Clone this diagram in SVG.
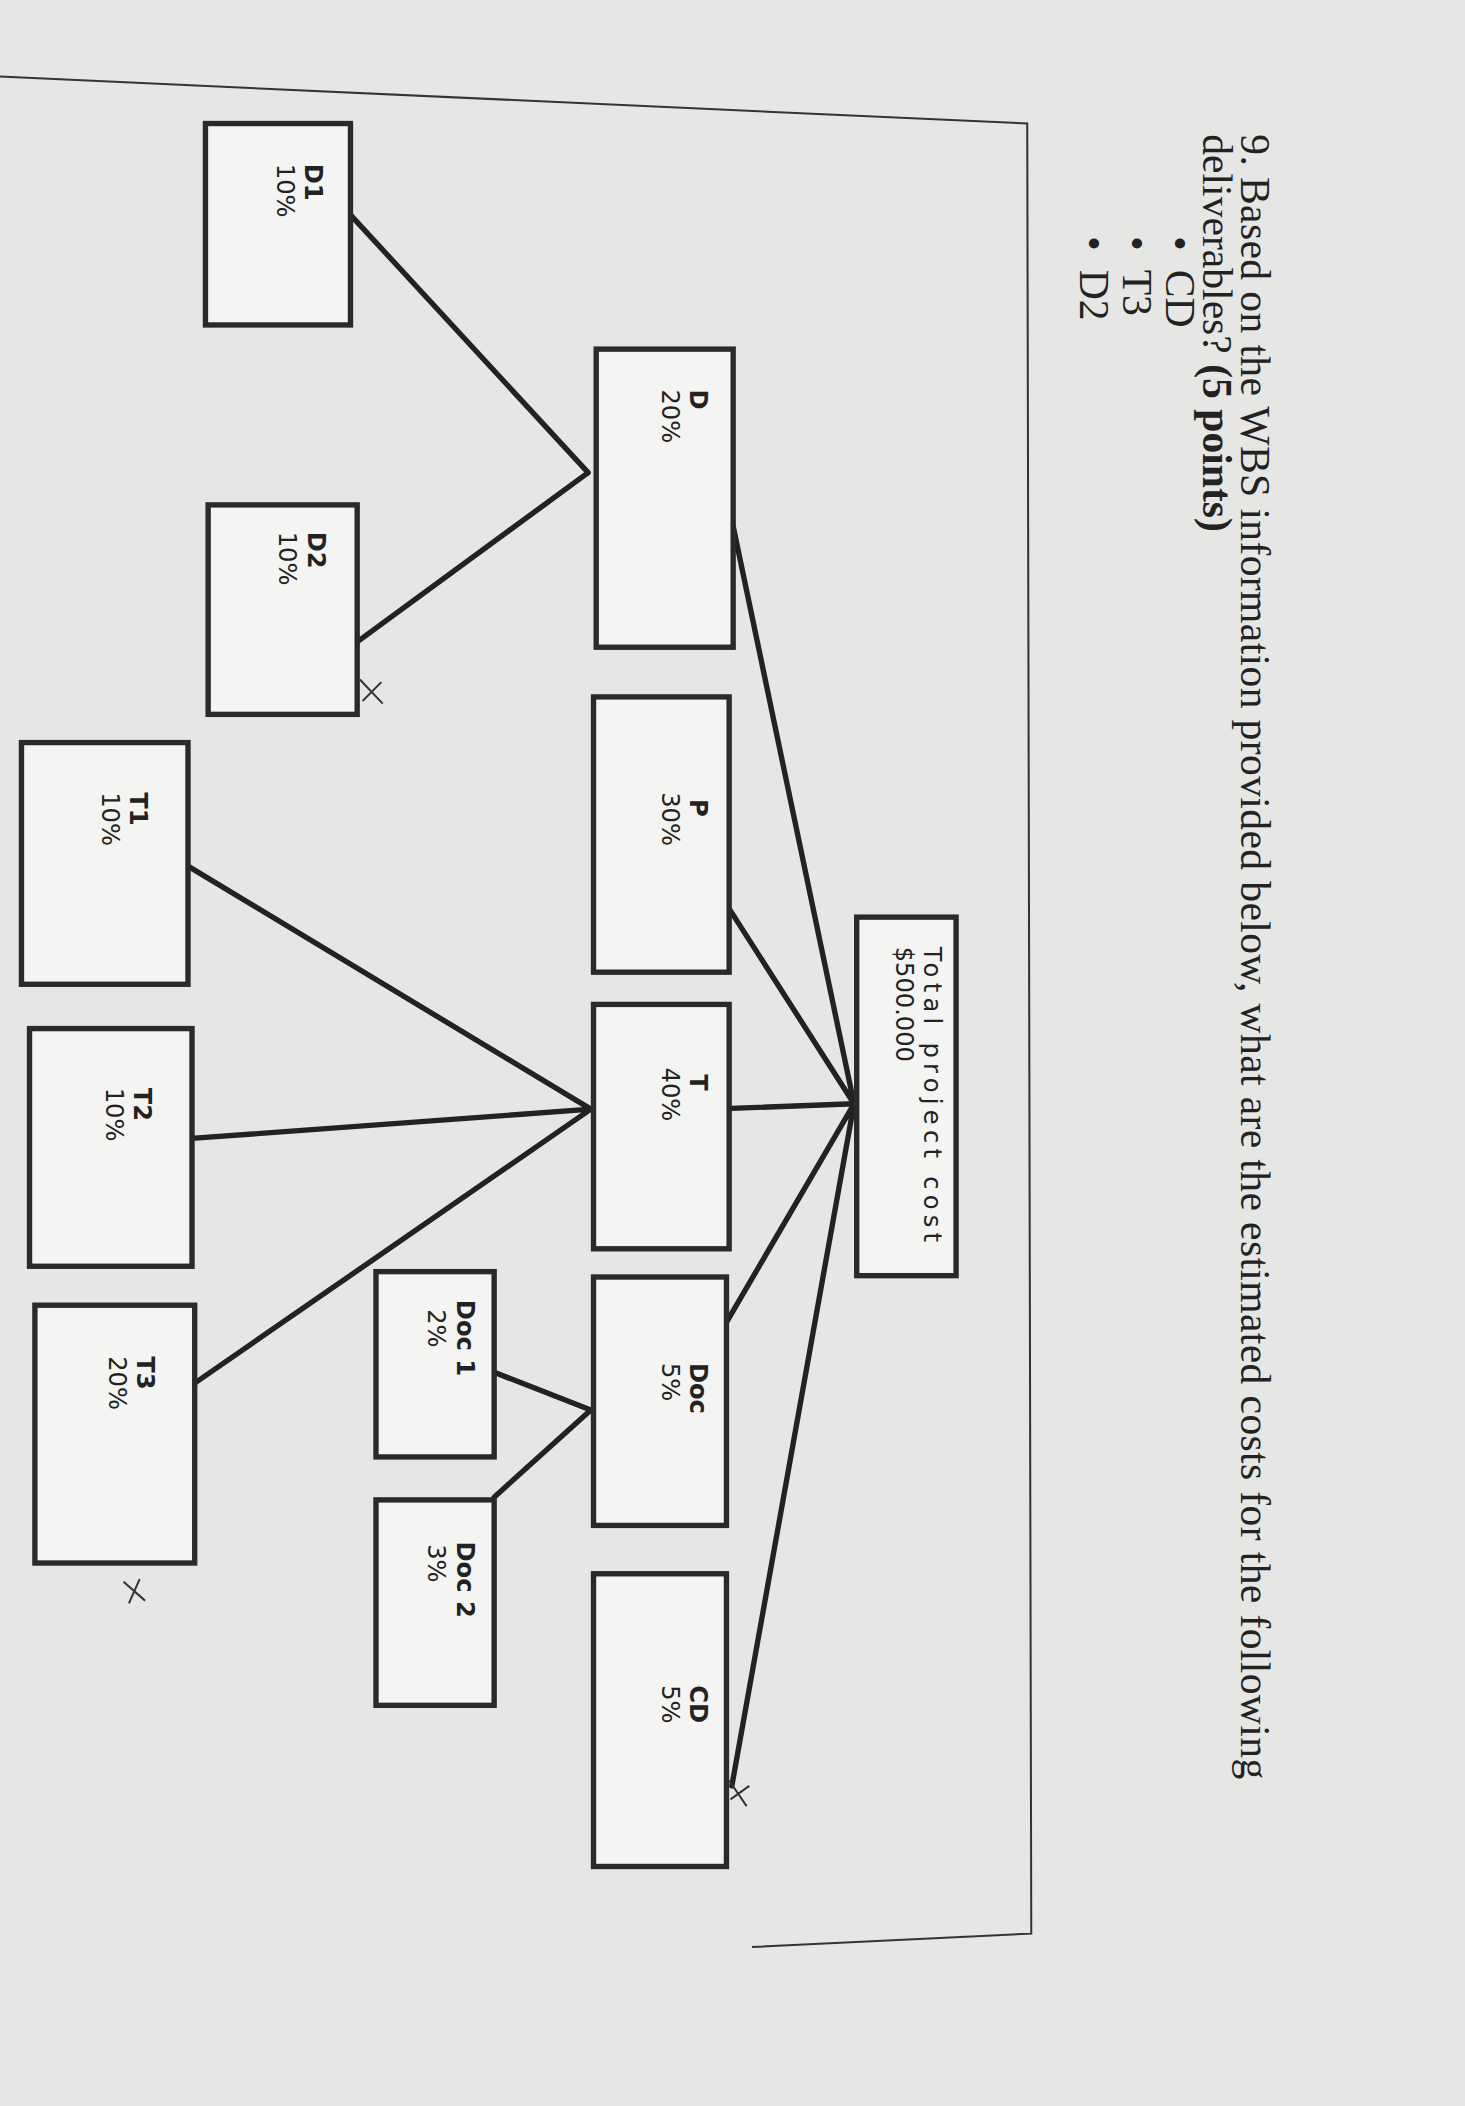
<svg xmlns="http://www.w3.org/2000/svg" width="1465" height="2106" viewBox="0 0 1465 2106">
<style>
.b{fill:#f4f4f2;stroke:#2a2a2a;stroke-width:4}
.c{stroke:#222;stroke-width:4;fill:none;stroke-linecap:round}
.t{font-family:"DejaVu Sans",sans-serif;font-size:18px;fill:#222}
.q{font-family:"Liberation Serif",serif;font-size:31px;fill:#222}
.f{stroke:#333;stroke-width:1.5;fill:none}
</style>
<rect width="1465" height="2106" fill="#e6e6e4"/>
<g transform="scale(1.3428)">
<path class="f" d="M0,57 L765,92 L768,1440 L560,1450"/>
<g id="question">
<text class="q" transform="translate(924,100) rotate(90)" textLength="1225">9. Based on the WBS information provided below, what are the estimated costs for the following</text>
<text class="q" transform="translate(896,100) rotate(90)">deliverables? <tspan font-weight="bold">(5 points)</tspan></text>
<text class="q" transform="translate(868,176) rotate(90)">•<tspan dx="14">CD</tspan></text>
<text class="q" transform="translate(836,176) rotate(90)">•<tspan dx="14">T3</tspan></text>
<text class="q" transform="translate(804,176) rotate(90)">•<tspan dx="14">D2</tspan></text>
</g>
<g id="connectors">
<path class="c" d="M636,822 L546,392 M636,822 L540,672 M636,822 L530,826 M636,822 L535,995 M636,822 L545,1330"/>
<path class="c" d="M438,352 L261,160 M438,352 L266,478"/>
<path class="c" d="M440,826 L140,645 M440,826 L140,848 M440,826 L145,1030"/>
<path class="c" d="M440,1050 L368,1022 M440,1050 L368,1115"/>
<path class="f" d="M268,506 L285,524 M284,508 L270,522 M92,1178 L108,1192 M104,1176 L96,1194 M543,1326 L556,1345 M558,1330 L544,1340"/>
</g>
<g id="total"><rect class="b" x="638" y="683" width="74" height="267"/>
<text class="t" transform="translate(688,705) rotate(90)" textLength="220">Total project cost</text>
<text class="t" transform="translate(667,705) rotate(90)">$500.000</text></g>
<g id="D"><rect class="b" x="444" y="260" width="102" height="222"/>
<text class="t" font-weight="bold" transform="translate(514,290) rotate(90)">D</text><text class="t" transform="translate(493,290) rotate(90)">20%</text></g>
<g id="P"><rect class="b" x="442" y="519" width="101" height="205"/>
<text class="t" font-weight="bold" transform="translate(514,595) rotate(90)">P</text><text class="t" transform="translate(493,590) rotate(90)">30%</text></g>
<g id="T"><rect class="b" x="442" y="748" width="101" height="182"/>
<text class="t" font-weight="bold" transform="translate(514,800) rotate(90)">T</text><text class="t" transform="translate(493,795) rotate(90)">40%</text></g>
<g id="Doc"><rect class="b" x="442" y="951" width="99" height="185"/>
<text class="t" font-weight="bold" transform="translate(514,1015) rotate(90)">Doc</text><text class="t" transform="translate(493,1015) rotate(90)">5%</text></g>
<g id="CD"><rect class="b" x="442" y="1172" width="99" height="218"/>
<text class="t" font-weight="bold" transform="translate(514,1255) rotate(90)">CD</text><text class="t" transform="translate(493,1255) rotate(90)">5%</text></g>
<g id="D1"><rect class="b" x="153" y="92" width="108" height="150"/>
<text class="t" font-weight="bold" transform="translate(227,122) rotate(90)">D1</text><text class="t" transform="translate(206,122) rotate(90)">10%</text></g>
<g id="D2"><rect class="b" x="155" y="376" width="111" height="156"/>
<text class="t" font-weight="bold" transform="translate(229,396) rotate(90)">D2</text><text class="t" transform="translate(208,396) rotate(90)">10%</text></g>
<g id="T1"><rect class="b" x="16" y="553" width="124" height="180"/>
<text class="t" font-weight="bold" transform="translate(97,590) rotate(90)">T1</text><text class="t" transform="translate(76,590) rotate(90)">10%</text></g>
<g id="T2"><rect class="b" x="22" y="766" width="121" height="177"/>
<text class="t" font-weight="bold" transform="translate(100,810) rotate(90)">T2</text><text class="t" transform="translate(79,810) rotate(90)">10%</text></g>
<g id="T3"><rect class="b" x="26" y="972" width="119" height="192"/>
<text class="t" font-weight="bold" transform="translate(102,1010) rotate(90)">T3</text><text class="t" transform="translate(81,1010) rotate(90)">20%</text></g>
<g id="Doc1"><rect class="b" x="280" y="947" width="88" height="138"/>
<text class="t" font-weight="bold" transform="translate(340,968) rotate(90)">Doc 1</text><text class="t" transform="translate(319,975) rotate(90)">2%</text></g>
<g id="Doc2"><rect class="b" x="280" y="1117" width="88" height="153"/>
<text class="t" font-weight="bold" transform="translate(340,1148) rotate(90)">Doc 2</text><text class="t" transform="translate(319,1150) rotate(90)">3%</text></g>
</g>
</svg>
